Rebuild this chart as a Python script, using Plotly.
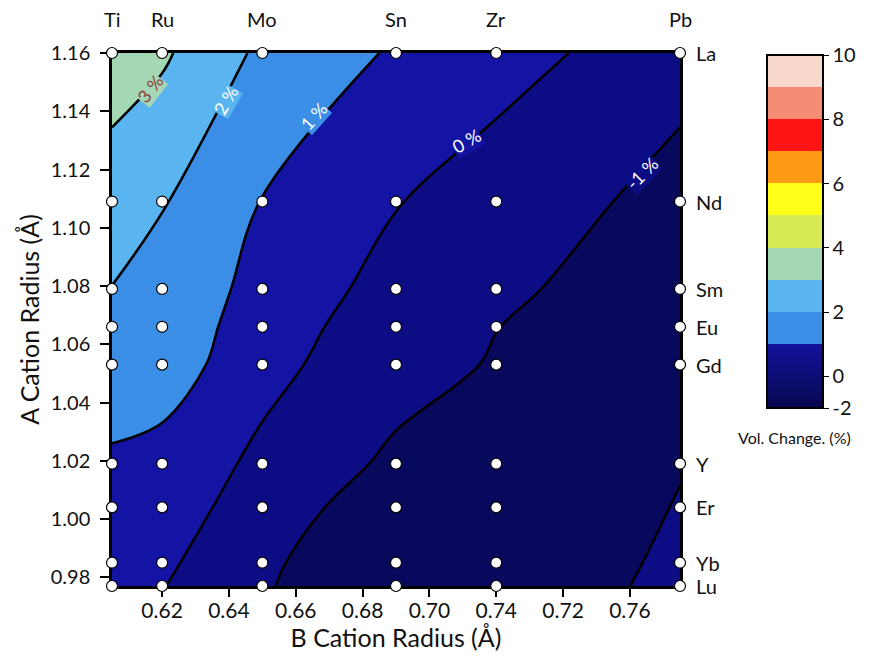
import plotly.graph_objects as go

# ---------------- data ----------------
b_cations = ["Ti", "Ru", "Mo", "Sn", "Zr", "Pb"]
b_radius = [0.605, 0.62, 0.65, 0.69, 0.72, 0.775]
a_cations = ["Lu", "Yb", "Er", "Y", "Gd", "Eu", "Sm", "Nd", "La"]
a_radius = [0.977, 0.985, 1.004, 1.019, 1.053, 1.066, 1.079, 1.109, 1.16]

# volume change (%) ; rows follow a_radius, columns follow b_radius
vol_change = [
    [0.35, 0.04, -0.95, -1.45, -1.54, -0.80],   # Lu
    [0.45, 0.20, -0.90, -1.47, -1.55, -0.86],   # Yb
    [0.70, 0.57, -0.56, -1.50, -1.50, -0.97],   # Er
    [0.82, 0.60, -0.20, -1.20, -1.35, -1.03],   # Y
    [1.70, 1.57, 0.27, -0.60, -1.08, -1.30],    # Gd
    [1.85, 1.66, 0.48, -0.55, -0.99, -1.35],    # Eu
    [1.98, 1.75, 0.66, -0.35, -0.87, -1.40],    # Sm
    [2.50, 2.05, 0.97, 0.05, -0.65, -1.20],     # Nd
    [3.50, 3.15, 1.80, 0.886, 0.52, -0.80],     # La
]

x_tickvals = [0.62, 0.64, 0.66, 0.68, 0.70, 0.72, 0.74, 0.76]
x_ticktext = ["0.62", "0.64", "0.66", "0.68", "0.70", "0.74", "0.72", "0.76"]
y_tickvals = [0.98, 1.00, 1.02, 1.04, 1.06, 1.08, 1.10, 1.12, 1.14, 1.16]
y_ticktext = ["0.98", "1.00", "1.02", "1.04", "1.06", "1.08", "1.10", "1.12", "1.14", "1.16"]

cb_tickvals = [10, 8, 6, 4, 2, 0, -1]
cb_ticktext = ["10", "8", "6", "4", "2", "0", "-2"]

# contour labels: text, B radius, A radius, angle
label_text = ["3 %", "2 %", "1 %", "0 %", "-1 %"]
label_x = [0.6162, 0.6391, 0.6654, 0.7111, 0.7637]
label_y = [1.1478, 1.1438, 1.1383, 1.1297, 1.1187]
label_angle = [-52, -60, -48, -30, -45]
label_color = ["#8a4040", "white", "white", "white", "white"]
label_bg = ["#a4d8b4", "#5ab4f0", "#3a8ee6", "#1414a4", "#0c0c84"]

# ---------------- colours ----------------
band_colors = [
    "#08085c",  # < -1
    "#0c0c84",  # -1..0
    "#1414a4",  # 0..1
    "#3a8ee6",  # 1..2
    "#5ab4f0",  # 2..3
    "#a4d8b4",  # 3..4
    "#d6e854",  # 4..5
    "#ffff1a",  # 5..6
    "#ff9a14",  # 6..7
    "#ff1414",  # 7..8
    "#f58c74",  # 8..9
    "#f9d8cc",  # > 9
]
nb = len(band_colors)
contour_scale = [[k / (nb - 1), c] for k, c in enumerate(band_colors)]

# colorbar scale from -1 to 10: navy gradient below 1, steps above
ncb = 11
cb_scale = [[0.0, "#07074e"], [2 / ncb, "#12129e"]]
for k, c in enumerate(band_colors[3:]):
    cb_scale.append([(k + 2) / ncb, c])
    cb_scale.append([(k + 3) / ncb, c])
cb_scale[2][0] = 2 / ncb + 1e-9

FONT = "Lato"
TXT = "#111"

fig = go.Figure()

fig.add_trace(go.Contour(
    x=b_radius, y=a_radius, z=vol_change,
    colorscale=contour_scale,
    contours=dict(start=-1, end=9, size=1, coloring="fill", showlabels=False),
    line=dict(color="black", width=2.6, smoothing=1.0),
    showscale=False,
    hoverinfo="skip",
))

# grid of data points
px, py = [], []
for a in a_radius:
    for b in b_radius:
        px.append(b)
        py.append(a)
fig.add_trace(go.Scatter(
    x=px, y=py, mode="markers",
    marker=dict(size=11, color="white", line=dict(color="black", width=1.2)),
    cliponaxis=False, showlegend=False, hoverinfo="skip",
))

CB_X = 1.153
CB_LEN = 0.662
CB_Y = 0.9957

# dummy trace for the colorbar
fig.add_trace(go.Scatter(
    x=[None], y=[None], mode="markers",
    marker=dict(
        color=[0], cmin=-1, cmax=10, colorscale=cb_scale, showscale=True,
        colorbar=dict(
            x=CB_X, xanchor="left", xref="paper",
            y=CB_Y, yanchor="top", len=CB_LEN, lenmode="fraction",
            thickness=56, thicknessmode="pixels",
            outlinewidth=2, outlinecolor="black",
            tickmode="array", tickvals=cb_tickvals, ticktext=cb_ticktext,
            ticks="outside", ticklen=5, tickcolor="black",
            tickfont=dict(family=FONT, size=20, color=TXT),
            xpad=0, ypad=0,
        ),
    ),
    showlegend=False, hoverinfo="skip",
))

annotations = []
for name, b in zip(b_cations, b_radius):
    annotations.append(dict(x=b, y=1, xref="x", yref="paper", text=name,
                            showarrow=False, xanchor="center", yanchor="bottom", yshift=20,
                            font=dict(family=FONT, size=20, color=TXT)))
for name, a in zip(a_cations, a_radius):
    annotations.append(dict(x=1, y=a, xref="paper", yref="y", text=name,
                            showarrow=False, xanchor="left", yanchor="middle", xshift=14,
                            font=dict(family=FONT, size=20, color=TXT)))
for t, lx, ly, ang, col, bg in zip(label_text, label_x, label_y, label_angle, label_color, label_bg):
    annotations.append(dict(x=lx, y=ly, xref="x", yref="y", text=t, showarrow=False,
                            xanchor="center", yanchor="middle",
                            textangle=ang, bgcolor=bg, borderpad=0,
                            font=dict(family=FONT, size=18, color=col)))
annotations.append(dict(x=CB_X + 28 / 568, y=0.278, xref="paper", yref="paper",
                        text="Vol. Change. (%)", showarrow=False,
                        xanchor="center", yanchor="middle",
                        font=dict(family=FONT, size=16, color=TXT)))

fig.update_layout(
    width=870, height=667,
    margin=dict(l=112, r=190, t=53, b=81),
    paper_bgcolor="white", plot_bgcolor="white",
    font=dict(family=FONT, color=TXT),
    showlegend=False,
    annotations=annotations,
    xaxis=dict(
        range=[0.605, 0.775], tickmode="array", tickvals=x_tickvals, ticktext=x_ticktext,
        ticks="outside", ticklen=8, tickwidth=1.5, tickcolor="black",
        showline=True, linewidth=2.5, linecolor="black", mirror=True,
        showgrid=False, zeroline=False, layer="below traces",
        tickfont=dict(family=FONT, size=21, color=TXT), ticklabelstandoff=-4,
        title=dict(text="B Cation Radius (Å)", font=dict(family=FONT, size=25, color=TXT), standoff=4),
    ),
    yaxis=dict(
        range=[0.977, 1.16], tickmode="array", tickvals=y_tickvals, ticktext=y_ticktext,
        ticks="outside", ticklen=9, tickwidth=1.5, tickcolor="black",
        showline=True, linewidth=2.5, linecolor="black", mirror=True,
        showgrid=False, zeroline=False, layer="below traces",
        tickfont=dict(family=FONT, size=20, color=TXT), ticklabelstandoff=6,
        title=dict(text="A Cation Radius (Å)", font=dict(family=FONT, size=25, color=TXT), standoff=4),
    ),
)

fig.write_html("out.html", config={"displayModeBar": False},
               post_script="document.body.style.margin='0';")
